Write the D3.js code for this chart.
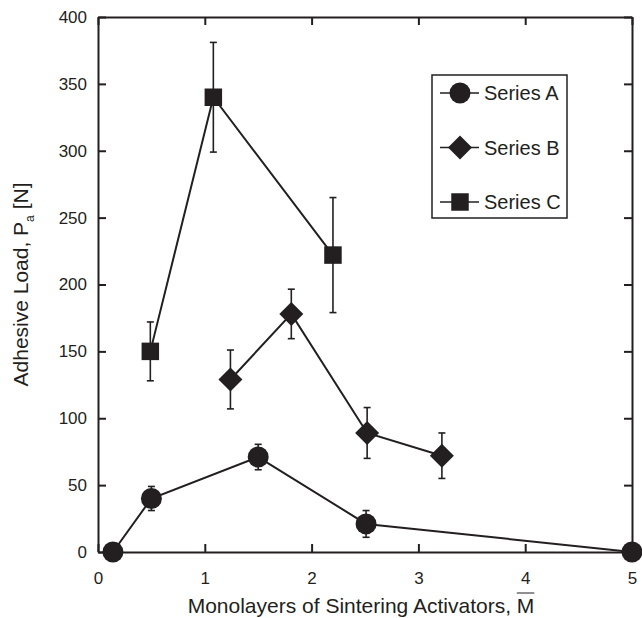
<!DOCTYPE html>
<html lang='en'>
<head>
<meta http-equiv='Content-Type' content='text/html;charset=utf-8'/>
<title>Adhesive load</title>
<script src='https://d3js.org/d3.v7.min.js'></script>
<style>
  body { margin: 0; background: #fff; }
  text { font-family: 'Liberation Sans', Arial, sans-serif; fill: #231f20; }
</style>
</head>
<body>
<script>
'use strict'
// values
const xTicks = [0, 1, 2, 3, 4, 5]
const yTicks = [0, 50, 100, 150, 200, 250, 300, 350, 400]
const seriesNames = ['Series A', 'Series B', 'Series C']

const aX = [0.14, 0.5, 1.5, 2.51, 5]
const aY = [0, 40, 71, 21, 0]
const aErr = [0, 9, 9.5, 10, 0]

const bX = [1.24, 1.81, 2.52, 3.22]
const bY = [129, 178, 89, 72]
const bErr = [22, 18.5, 19, 17]

const cX = [0.49, 1.08, 2.2]
const cY = [150, 340, 222]
const cErr = [22, 41, 43]

const ink = '#231f20'
const W = 642
const H = 618
const margin = {top: 17, right: 10, bottom: 66, left: 98}

const svg = d3.select('body').append('svg')
  .attr('width', W)
  .attr('height', H)

svg.append('rect')
  .attr('width', '100%')
  .attr('height', '100%')
  .attr('fill', '#ffffff')

const x = d3.scaleLinear().domain([0, 5]).range([margin.left, W - margin.right])
const y = d3.scaleLinear().domain([0, 400]).range([H - margin.bottom, margin.top])

// axes, ticks pointing inward on all four sides
function styleAxis(g)
{
  g.selectAll('path, line').attr('stroke', ink).attr('stroke-width', 2)
  g.selectAll('text').attr('font-size', 17).attr('fill', ink)
    .attr('font-family', "'Liberation Sans', Arial, sans-serif")
}

svg.append('g')
  .attr('transform', `translate(0,${y(0)})`)
  .call(d3.axisBottom(x).tickValues(xTicks).tickFormat(d3.format('d'))
    .tickSizeInner(-8).tickSizeOuter(0).tickPadding(20))
  .call(styleAxis)

svg.append('g')
  .attr('transform', `translate(${x(0)},0)`)
  .call(d3.axisLeft(y).tickValues(yTicks).tickFormat(d3.format('d'))
    .tickSizeInner(-8).tickSizeOuter(0).tickPadding(11))
  .call(styleAxis)

svg.append('g')
  .attr('transform', `translate(0,${y(400)})`)
  .call(d3.axisTop(x).tickValues(xTicks).tickSizeInner(-8).tickSizeOuter(0).tickFormat(''))
  .call(styleAxis)

svg.append('g')
  .attr('transform', `translate(${x(5)},0)`)
  .call(d3.axisRight(y).tickValues(yTicks).tickSizeInner(-8).tickSizeOuter(0).tickFormat(''))
  .call(styleAxis)

// axis titles
const xTitle = svg.append('text')
  .attr('x', 361)
  .attr('y', 613)
  .attr('text-anchor', 'middle')
  .attr('font-size', 21)
  .text('Monolayers of Sintering Activators, M')

// overline over the last M
const tEl = xTitle.node()
const nChars = tEl.getNumberOfChars()
const mStart = tEl.getStartPositionOfChar(nChars - 1)
const mWidth = tEl.getSubStringLength(nChars - 1, 1)
svg.append('line')
  .attr('x1', mStart.x).attr('x2', mStart.x + mWidth)
  .attr('y1', 593).attr('y2', 593)
  .attr('stroke', ink).attr('stroke-width', 1)

const yTitle = svg.append('text')
  .attr('transform', `translate(28,${(y(0) + y(400)) / 2}) rotate(-90)`)
  .attr('text-anchor', 'middle')
  .attr('font-size', 21)
yTitle.append('tspan').text('Adhesive Load, P')
yTitle.append('tspan').attr('font-size', 12).attr('dy', 6).text('a')
yTitle.append('tspan').attr('dy', -6).text(' [N]')

// series
const series = [
  {name: seriesNames[0], xs: aX, ys: aY, es: aErr, shape: 'circle'},
  {name: seriesNames[1], xs: bX, ys: bY, es: bErr, shape: 'diamond'},
  {name: seriesNames[2], xs: cX, ys: cY, es: cErr, shape: 'square'}
]

const symbolPath = {
  circle: d3.symbol(d3.symbolCircle, Math.PI * 10.5 * 10.5)(),
  diamond: 'M0,-12L12,0L0,12L-12,0Z',
  square: d3.symbol(d3.symbolSquare, 17.5 * 17.5)()
}

const line = d3.line()
  .x(function(d) { return x(d.x) })
  .y(function(d) { return y(d.y) })

series.forEach(function(s)
{
  const pts = s.xs.map(function(v, i) { return {x: v, y: s.ys[i], e: s.es[i]} })
  const g = svg.append('g')

  g.append('path')
    .attr('d', line(pts))
    .attr('fill', 'none')
    .attr('stroke', ink)
    .attr('stroke-width', 2)

  const bars = g.selectAll('.err').data(pts.filter(function(d) { return d.e > 0 }))
    .enter().append('g')
  bars.append('line')
    .attr('x1', function(d) { return x(d.x) }).attr('x2', function(d) { return x(d.x) })
    .attr('y1', function(d) { return y(d.y - d.e) }).attr('y2', function(d) { return y(d.y + d.e) })
    .attr('stroke', ink).attr('stroke-width', 1.6)
  ;[-1, 1].forEach(function(sgn)
  {
    bars.append('line')
      .attr('x1', function(d) { return x(d.x) - 3.5 }).attr('x2', function(d) { return x(d.x) + 3.5 })
      .attr('y1', function(d) { return y(d.y + sgn * d.e) }).attr('y2', function(d) { return y(d.y + sgn * d.e) })
      .attr('stroke', ink).attr('stroke-width', 1.6)
  })

  g.selectAll('.mk').data(pts).enter().append('path')
    .attr('d', symbolPath[s.shape])
    .attr('transform', function(d) { return `translate(${x(d.x)},${y(d.y)})` })
    .attr('fill', ink)
})

// legend
const legend = svg.append('g').attr('transform', 'translate(432,75)')
legend.append('rect')
  .attr('width', 135).attr('height', 143)
  .attr('fill', '#fff').attr('stroke', ink).attr('stroke-width', 1.5)

series.forEach(function(s, i)
{
  const ly = 18 + i * 54.5
  legend.append('line')
    .attr('x1', 8).attr('x2', 47).attr('y1', ly).attr('y2', ly)
    .attr('stroke', ink).attr('stroke-width', 1.5)
  legend.append('path')
    .attr('d', symbolPath[s.shape])
    .attr('transform', `translate(28,${ly})`)
    .attr('fill', ink)
  legend.append('text')
    .attr('x', 52).attr('y', ly + 7)
    .attr('font-size', 20)
    .text(s.name)
})
</script>
</body>
</html>
